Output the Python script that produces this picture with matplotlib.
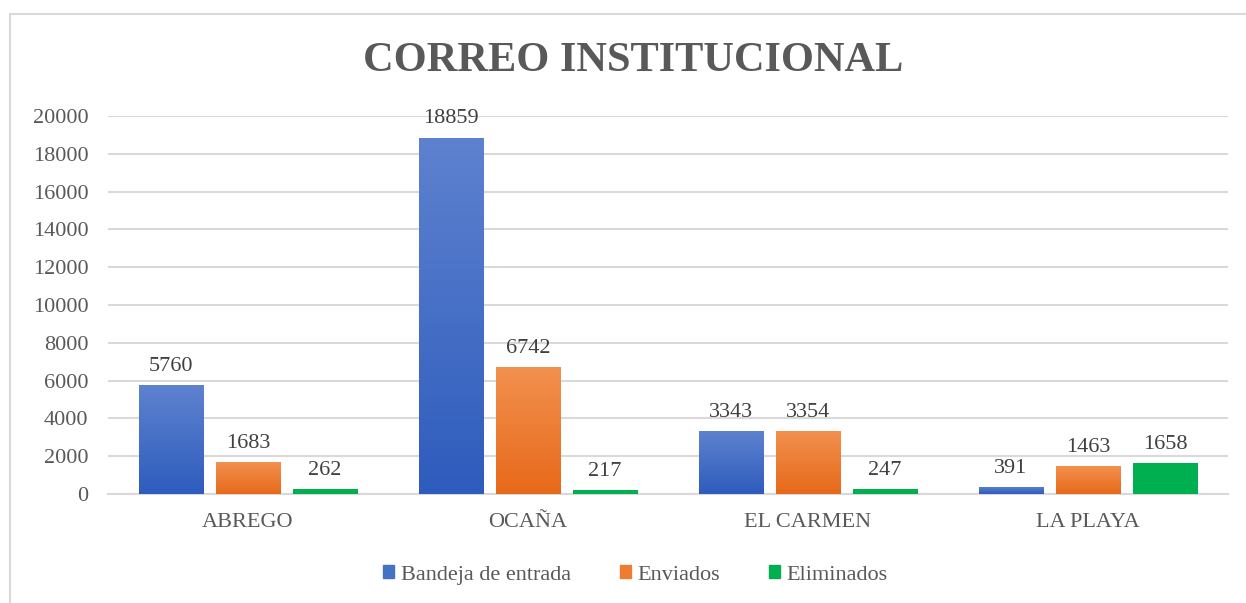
import numpy as np
import matplotlib
matplotlib.use('Agg')
import matplotlib.pyplot as plt
from matplotlib.colors import LinearSegmentedColormap
from matplotlib.patches import Rectangle

# data
categories = ['ABREGO', 'OCAÑA', 'EL CARMEN', 'LA PLAYA']
series_names = ['Bandeja de entrada', 'Enviados', 'Eliminados']
bandeja = [5760, 18859, 3343, 391]
enviados = [1683, 6742, 3354, 1463]
eliminados = [262, 217, 247, 1658]

# top / bottom colours for the gradient fill
grad_colors = [('#5e82cf', '#2e5cbd'), ('#f2914f', '#e7691a'), ('#00b050', '#00b050')]
legend_colors = ['#4472c4', '#ed7d31', '#00b050']

plt.rcParams['font.family'] = ['Liberation Serif', 'DejaVu Serif']
text_gray = '#595959'

fig = plt.figure(figsize=(12.46, 6.03), dpi=100)
fig.patches.append(Rectangle((10 / 1246, -0.05), 1.2, 1 - 14 / 603 + 0.05,
                             transform=fig.transFigure, fill=False,
                             edgecolor='#d9d9d9', linewidth=1.5))

ax = fig.add_axes([108 / 1246, 1 - 494 / 603, (1228 - 108) / 1246, (494 - 116) / 603])

x = np.arange(len(categories))
width = 0.23
offsets = [-0.275, 0, 0.275]
all_series = [bandeja, enviados, eliminados]

for i, vals in enumerate(all_series):
    bars = ax.bar(x + offsets[i], vals, width, color=legend_colors[i],
                  label=series_names[i], zorder=3)
    cmap = LinearSegmentedColormap.from_list('g%d' % i, [grad_colors[i][1], grad_colors[i][0]])
    grad = np.linspace(0, 1, 256).reshape(-1, 1)
    for b, v in zip(bars, vals):
        bx, by = b.get_x(), b.get_y()
        bw, bh = b.get_width(), b.get_height()
        im = ax.imshow(grad, cmap=cmap, origin='lower', aspect='auto',
                       extent=[bx, bx + bw, by, by + bh], zorder=3.5)
        im.set_clip_path(b)
        ax.text(bx + bw / 2, v + 480, str(v), ha='center', va='bottom',
                fontsize=16, color='#404040', zorder=5)

ax.set_xlim(-0.5, len(categories) - 0.5)
ax.set_ylim(0, 20000)
ax.set_yticks(np.arange(0, 20001, 2000))
ax.set_xticks(x)
ax.set_xticklabels(categories)
ax.tick_params(axis='both', length=0, labelsize=16, labelcolor=text_gray)
ax.tick_params(axis='y', pad=14)
ax.tick_params(axis='x', pad=14)
ax.grid(axis='y', color='#d9d9d9', linewidth=1.5, zorder=0)
for s in ['top', 'right', 'left']:
    ax.spines[s].set_visible(False)
ax.spines['bottom'].set_color('#d9d9d9')
ax.spines['bottom'].set_linewidth(1.5)

fig.text(0.508, 1 - 61 / 603, 'CORREO INSTITUCIONAL', ha='center', va='center',
         fontsize=30.5, fontweight='bold', color=text_gray)

handles = [Rectangle((0, 0), 1, 1, color=c) for c in legend_colors]
fig.legend(handles, series_names, loc='center', bbox_to_anchor=(0.51, 1 - 575 / 603),
           ncol=3, frameon=False, fontsize=16, labelcolor=text_gray,
           handlelength=0.5, handleheight=0.5, handletextpad=0.3, columnspacing=2.2)

fig.savefig('out.png', dpi=100, facecolor='white')
